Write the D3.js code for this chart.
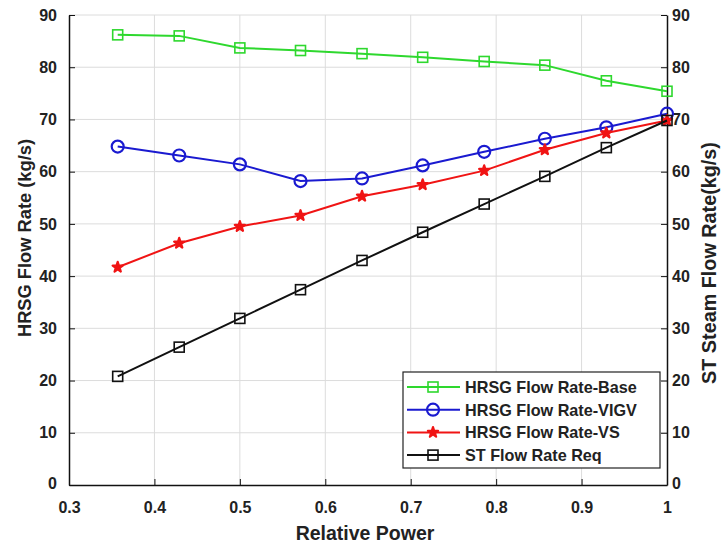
<!DOCTYPE html>
<html>
<head>
<meta charset="utf-8">
<script src="https://cdn.jsdelivr.net/npm/d3@7"></script>
<style>
  body { margin: 0; background: #fff; }
  text { font-family: "Liberation Sans", Arial, sans-serif; font-weight: bold; fill: #222; }
</style>
</head>
<body>
<div id="chart"></div>
<script>
// data
var relPower = [0.357, 0.429, 0.5, 0.571, 0.643, 0.714, 0.786, 0.857, 0.929, 1.0];
var flowBase = [86.2, 86.0, 83.7, 83.2, 82.6, 81.9, 81.1, 80.4, 77.4, 75.4];
var flowVIGV = [64.8, 63.1, 61.4, 58.2, 58.7, 61.2, 63.8, 66.3, 68.5, 71.1];
var flowVS = [41.7, 46.3, 49.5, 51.6, 55.3, 57.5, 60.2, 64.2, 67.4, 69.8];
var stReq = [20.8, 26.4, 31.9, 37.4, 43.0, 48.4, 53.8, 59.1, 64.6, 69.8];
var xTicks = [0.3, 0.4, 0.5, 0.6, 0.7, 0.8, 0.9, 1];
var yTicks = [0, 10, 20, 30, 40, 50, 60, 70, 80, 90];
var seriesNames = ["HRSG Flow Rate-Base", "HRSG Flow Rate-VIGV", "HRSG Flow Rate-VS", "ST Flow Rate Req"];

var svgWidth = 721;
var svgHeight = 544;
var margin = {top: 15, right: 54, bottom: 59, left: 69};
var width = svgWidth - margin.left - margin.right;
var height = svgHeight - margin.top - margin.bottom;

var svg = d3.select("#chart")
  .append("svg")
  .attr("width", svgWidth)
  .attr("height", svgHeight);

var chartGroup = svg.append("g")
  .attr("transform", `translate(${margin.left}, ${margin.top})`);

var xScale = d3.scaleLinear().domain([0.3, 1]).range([0, width]);
var yScale = d3.scaleLinear().domain([0, 90]).range([height, 0]);

// grid
chartGroup.append("g").selectAll("line")
  .data(xTicks.slice(1, -1))
  .enter().append("line")
  .attr("x1", d => xScale(d)).attr("x2", d => xScale(d))
  .attr("y1", 0).attr("y2", height)
  .attr("stroke", "#dcdcdc").attr("stroke-width", 1);

chartGroup.append("g").selectAll("line")
  .data(yTicks.slice(1))
  .enter().append("line")
  .attr("x1", 0).attr("x2", width)
  .attr("y1", d => yScale(d)).attr("y2", d => yScale(d))
  .attr("stroke", "#dcdcdc").attr("stroke-width", 1);

// axes
var bottomAxis = d3.axisBottom(xScale).tickValues(xTicks).tickFormat(d3.format("")).tickSizeInner(-6).tickSizeOuter(0).tickPadding(17);
var leftAxis = d3.axisLeft(yScale).tickValues(yTicks).tickSizeInner(-6).tickSizeOuter(0).tickPadding(12);
var rightAxis = d3.axisRight(yScale).tickValues(yTicks).tickSizeInner(-6).tickSizeOuter(0).tickPadding(5);

var xAxisG = chartGroup.append("g")
  .attr("transform", `translate(0, ${height})`)
  .call(bottomAxis);
var yAxisG = chartGroup.append("g").call(leftAxis);
var y2AxisG = chartGroup.append("g")
  .attr("transform", `translate(${width}, 0)`)
  .call(rightAxis);

[xAxisG, yAxisG, y2AxisG].forEach(function(g) {
  g.select(".domain").attr("stroke", "#111").attr("stroke-width", 1.5);
  g.selectAll(".tick line").attr("stroke", "#111");
  g.selectAll(".tick text").style("font-size", "16px").attr("fill", "#222");
});
// the zeros sit a little lower in the original
yAxisG.selectAll(".tick text").filter(d => d === 0).attr("dy", "0.2em");
y2AxisG.selectAll(".tick text").filter(d => d === 0).attr("dy", "0.2em");

// series
var series = [
  {name: seriesNames[0], values: flowBase, color: "#2ed82e", marker: "square"},
  {name: seriesNames[1], values: flowVIGV, color: "#1a1ad0", marker: "circle"},
  {name: seriesNames[2], values: flowVS, color: "#f01414", marker: "star"},
  {name: seriesNames[3], values: stReq, color: "#111111", marker: "square"}
];

var line = d3.line()
  .x(d => xScale(d[0]))
  .y(d => yScale(d[1]));

function drawMarker(g, type, color, x, y) {
  if (type === "square") {
    g.append("rect")
      .attr("x", x - 5).attr("y", y - 5)
      .attr("width", 10).attr("height", 10)
      .attr("fill", "none").attr("stroke", color).attr("stroke-width", 1.6);
  } else if (type === "circle") {
    g.append("circle")
      .attr("cx", x).attr("cy", y).attr("r", 6)
      .attr("fill", "none").attr("stroke", color).attr("stroke-width", 2.2);
  } else {
    g.append("path")
      .attr("d", d3.symbol().type(d3.symbolStar).size(32)())
      .attr("transform", `translate(${x},${y})`)
      .attr("fill", color).attr("stroke", color).attr("stroke-width", 2.2)
      .attr("stroke-linejoin", "round");
  }
}

series.forEach(function(s) {
  var pts = relPower.map((p, i) => [p, s.values[i]]);
  chartGroup.append("path")
    .datum(pts)
    .attr("d", line)
    .attr("fill", "none")
    .attr("stroke", s.color)
    .attr("stroke-width", 2);
  var mg = chartGroup.append("g");
  pts.forEach(function(p) {
    drawMarker(mg, s.marker, s.color, xScale(p[0]), yScale(p[1]));
  });
});

// legend
var legend = svg.append("g").attr("transform", "translate(403, 372)");
legend.append("rect")
  .attr("width", 257).attr("height", 96)
  .attr("fill", "#fff").attr("stroke", "#222").attr("stroke-width", 1.2);

series.forEach(function(s, i) {
  var y = 15 + i * 22.7;
  legend.append("line")
    .attr("x1", 4).attr("x2", 57)
    .attr("y1", y).attr("y2", y)
    .attr("stroke", s.color).attr("stroke-width", 2);
  drawMarker(legend, s.marker, s.color, 30, y);
  legend.append("text")
    .attr("x", 62).attr("y", y)
    .attr("dy", "0.36em")
    .style("font-size", "16.2px")
    .text(s.name);
});

// axis titles
svg.append("text")
  .attr("transform", "translate(365, 540)")
  .attr("text-anchor", "middle")
  .style("font-size", "19.5px")
  .text("Relative Power");

svg.append("text")
  .attr("transform", "translate(31, 238) rotate(-90)")
  .attr("text-anchor", "middle")
  .style("font-size", "18.3px")
  .text("HRSG Flow Rate (kg/s)");

svg.append("text")
  .attr("transform", "translate(716, 263) rotate(-90)")
  .attr("text-anchor", "middle")
  .style("font-size", "19.8px")
  .text("ST Steam Flow Rate(kg/s)");
</script>
</body>
</html>
